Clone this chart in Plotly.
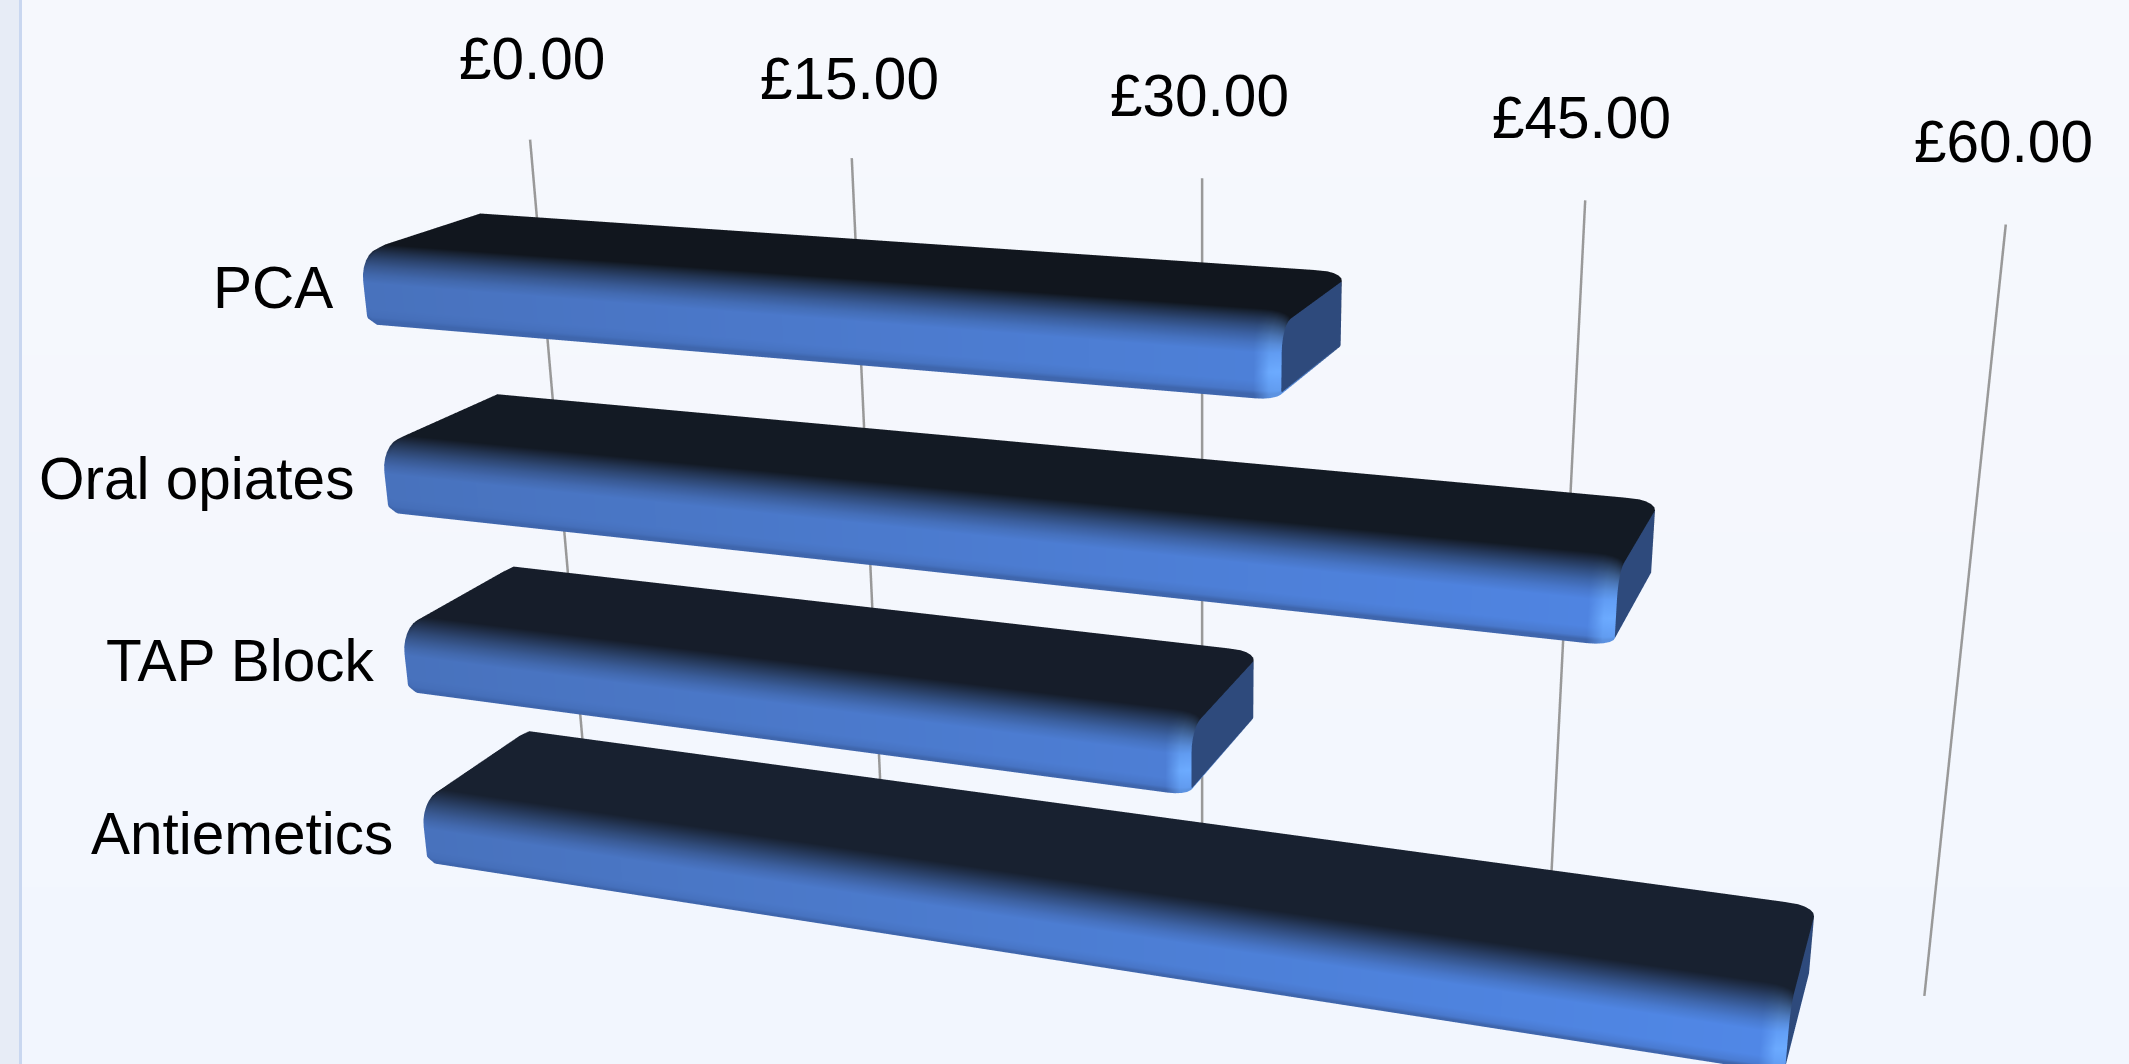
import math
import plotly.graph_objects as go

# Chart data
categories = ["PCA", "Oral opiates", "TAP Block", "Antiemetics"]
costs = [36.8, 48.8, 33.5, 55.7]
tick_values = [0, 15, 30, 45, 60]
tick_labels = ["£0.00", "£15.00", "£30.00", "£45.00", "£60.00"]

# Page geometry: the scene is larger than the window and sits partly above it
FIG_W, FIG_H = 2404, 2053
TOP_OFFSET = 478
WINDOW_H = 1064

# Scene scale: one pound and one category slot, in scene length units
UNIT_PER_POUND = 0.010333
UNIT_PER_SLOT = 0.08
N_SLOTS = len(categories)

# Bar solid, in scene length units
DEPTH_MID, DEPTH_HALF = 0.0815, 0.0405
HEIGHT_HALF = 0.0155
HEIGHT_SHIFT = 0.0007
R_TOP, R_BOTTOM = 0.013, 0.004
END_LENGTH, END_INSET = 0.0095, 0.003
END_SLANT = 0.25   # pounds the end face leans back towards the viewer
LEFT_LENGTH, LEFT_INSET = 0.004, 0.002
BAR_START = -0.5   # bars overhang the zero line slightly at their rounded end


def hex2rgb(c):
    return tuple(int(c[i:i + 2], 16) for i in (1, 3, 5))


def mix(a, b, t):
    t = max(0.0, min(1.0, t))
    return tuple(a[i] + (b[i] - a[i]) * t for i in range(3))


def css(c):
    return "#%02x%02x%02x" % tuple(int(round(v)) for v in c)


TOP_FIRST = hex2rgb("#11161e")
TOP_LAST = hex2rgb("#182130")
FRONT_LEFT = hex2rgb("#4872bd")
FRONT_RIGHT = hex2rgb("#5189ea")
FRONT_EDGE = hex2rgb("#3f66ad")
HIGHLIGHT = hex2rgb("#6cabff")
END_FACE = hex2rgb("#2e4a7c")


def profile(slot_mid, inset):
    """Rounded cross-section: list of (depth, down, top/front mix, vertical frac)."""
    zb = DEPTH_MID - DEPTH_HALF + inset
    zf = DEPTH_MID + DEPTH_HALF - inset
    lt = slot_mid - HEIGHT_HALF + inset
    lb = slot_mid + HEIGHT_HALF - inset
    rt = max(R_TOP - inset, 0.001)
    rb = max(R_BOTTOM - inset, 0.001)
    pts = [(zb, lb, 1.0, 2.0), (zb, lt, 0.0, 0.0)]
    for n in range(7):
        a = math.radians(15 * n)
        t = n / 6
        pts.append((zf - rt + rt * math.sin(a), lt + rt * (1 - math.cos(a)),
                    0.5 * t + 0.5 * t * t * (3 - 2 * t), 0.0))
    for v in (0.25, 0.5, 0.75):
        pts.append((zf, lt + rt + (lb - rb - lt - rt) * v, 1.0, v))
    for n in range(5):
        a = math.radians(22.5 * n)
        pts.append((zf - rb + rb * math.cos(a), lb - rb + rb * math.sin(a), 1.0,
                    1.0 if n else 0.9))
    return pts


def bar_mesh(value, index):
    slot_mid = (index + 0.5) * UNIT_PER_SLOT + HEIGHT_SHIFT
    top = mix(TOP_FIRST, TOP_LAST, index / (N_SLOTS - 1))
    left_len = LEFT_LENGTH / UNIT_PER_POUND
    end_len = END_LENGTH / UNIT_PER_POUND

    # Rings along the bar: (value, inset, closeness to the right end 0..1)
    rings = []
    for deg in (0, 15, 30, 45, 60, 75):
        a = math.radians(deg)
        rings.append((BAR_START + left_len * math.sin(a), LEFT_INSET * (1 - math.sin(a)), 0.0))
    body_from = BAR_START + left_len
    body_to = value - end_len - END_SLANT
    for f in (0.0, 0.33, 0.66, 1.0):
        rings.append((body_from + (body_to - body_from) * f, 0.0, 0.0))
    for n in range(6):
        a = math.radians(18 * (n + 1))
        rings.append((value - end_len + end_len * math.sin(a),
                      END_INSET * (1 - math.cos(a)), (n + 1) / 6))
    rings.append((value, END_INSET, 2.0))   # duplicate ring carrying the end-face colour

    xs, ys, zs, cols = [], [], [], []
    tri_i, tri_j, tri_k = [], [], []
    m = None
    for val, inset, closeness in rings:
        pts = profile(slot_mid, inset)
        m = len(pts)
        for depth, down, tf, vf in pts:
            lean = 0.0
            if closeness > 0:
                lean = END_SLANT * (depth - (DEPTH_MID - DEPTH_HALF)) / (2 * DEPTH_HALF)
            xs.append(val - lean)
            ys.append(-depth)
            zs.append(N_SLOTS - down / UNIT_PER_SLOT)
            front = mix(FRONT_LEFT, FRONT_RIGHT, val / 60)
            if vf > 0.85:
                front = mix(front, FRONT_EDGE, (vf - 0.85) / 0.15)
            if closeness == 2.0 or vf == 2.0:
                c = END_FACE
            else:
                if closeness > 0:
                    strength = min(closeness / 0.35, 1.0) * (0.5 + 0.5 * (1 - abs(vf - 0.5) * 1.4))
                    front = mix(front, HIGHLIGHT, strength)
                if closeness > 0.85:
                    front = mix(front, END_FACE, 0.4)
                c = mix(top, front, tf)
            cols.append(css(c))

    n_rings = len(rings)
    for r in range(n_rings - 2):
        for p in range(m):
            q = (p + 1) % m
            a, b = r * m + p, r * m + q
            c, d = (r + 1) * m + p, (r + 1) * m + q
            tri_i += [a, b]
            tri_j += [b, d]
            tri_k += [c, c]
    # End caps as triangle fans
    for ring, colour in ((0, css(FRONT_LEFT)), (n_rings - 1, css(END_FACE))):
        centre = len(xs)
        xs.append(rings[ring][0] - (END_SLANT / 2 if ring else 0))
        ys.append(-DEPTH_MID)
        zs.append(N_SLOTS - slot_mid / UNIT_PER_SLOT)
        cols.append(colour)
        for p in range(m):
            tri_i.append(centre)
            tri_j.append(ring * m + p)
            tri_k.append(ring * m + (p + 1) % m)

    return go.Mesh3d(x=xs, y=ys, z=zs, i=tri_i, j=tri_j, k=tri_k, vertexcolor=cols,
                     name=categories[index], hoverinfo="skip", showscale=False,
                     lighting=dict(ambient=1.0, diffuse=0.0, specular=0.0,
                                   roughness=1.0, fresnel=0.0),
                     flatshading=False)


fig = go.Figure()

# Gridlines on the back wall
for tick in tick_values:
    fig.add_trace(go.Scatter3d(x=[tick, tick], y=[0, 0],
                               z=[N_SLOTS, N_SLOTS - 0.319 / UNIT_PER_SLOT],
                               mode="lines", line=dict(color="#999999", width=5),
                               hoverinfo="skip", showlegend=False))

for idx, val in enumerate(costs):
    fig.add_trace(bar_mesh(val, idx))

annotations = []
font_spec = dict(family="Liberation Sans, Arial, sans-serif", size=58.5, color="#000000")
# Tick captions float a little off the wall's perspective; small pixel nudges place them
tick_nudge_x = [8, 1, -3, -8, -11]
tick_nudge_y = [8, 3, 3, 0, -4]
for tick, label, nx, ny in zip(tick_values, tick_labels, tick_nudge_x, tick_nudge_y):
    annotations.append(dict(x=tick, y=0, z=N_SLOTS + 0.4, text=label, showarrow=False,
                            xanchor="center", yanchor="middle", xshift=nx, yshift=ny,
                            font=font_spec))
for idx, name in enumerate(categories):
    annotations.append(dict(x=0, y=-(DEPTH_MID + DEPTH_HALF), z=N_SLOTS - idx - 0.5, text=name,
                            showarrow=False, xanchor="right", yanchor="middle",
                            xshift=-37, font=font_spec))

# Background bands and the slim panel at the left edge
def paper_y(py):
    return 1 - (py + TOP_OFFSET) / FIG_H


shapes = []
BANDS = ["#f6f8fd", "#f5f8fd", "#f5f7fd", "#f4f7fd", "#f3f7fe", "#f2f6fe"]
band_h = WINDOW_H / len(BANDS)
for b, colour in enumerate(BANDS):
    shapes.append(dict(type="rect", xref="paper", yref="paper", layer="below", x0=0, x1=1,
                       y0=paper_y(b * band_h), y1=paper_y((b + 1) * band_h),
                       fillcolor=colour, line=dict(width=0)))
shapes.append(dict(type="rect", xref="paper", yref="paper", layer="below", x0=0, x1=19 / FIG_W,
                   y0=paper_y(0), y1=paper_y(WINDOW_H), fillcolor="#e7ecf6", line=dict(width=0)))
shapes.append(dict(type="rect", xref="paper", yref="paper", layer="below", x0=19 / FIG_W,
                   x1=22 / FIG_W, y0=paper_y(0), y1=paper_y(WINDOW_H),
                   fillcolor="#c9d7f0", line=dict(width=0)))

hidden = dict(visible=False, showgrid=False, zeroline=False, showticklabels=False,
              showspikes=False, showbackground=False)
fig.update_layout(
    width=FIG_W, height=FIG_H, autosize=False,
    margin=dict(l=0, r=0, t=0, b=0),
    paper_bgcolor="#f4f7fd",
    showlegend=False,
    shapes=shapes,
    scene=dict(
        domain=dict(x=[0, 1], y=[0, 1]),
        bgcolor="rgba(0,0,0,0)",
        xaxis=dict(hidden, range=[-20, 80]),
        yaxis=dict(hidden, range=[-0.3, 0.3]),
        zaxis=dict(hidden, range=[-2.25, 6.5]),
        aspectmode="manual",
        aspectratio=dict(x=100 * UNIT_PER_POUND, y=0.6, z=8.75 * UNIT_PER_SLOT),
        camera=dict(
            projection=dict(type="perspective"),
            eye=dict(x=0.3022, y=-0.9478, z=0.3303),
            center=dict(x=0.0296, y=-0.0930, z=0.0254),
            up=dict(x=0, y=0, z=1),
        ),
        annotations=annotations,
    ),
)

page_script = (
    "var gd=document.getElementById('{plot_id}');"
    "gd.style.marginTop='-%dpx';"
    "document.documentElement.style.overflow='hidden';"
    "document.body.style.overflow='hidden';" % TOP_OFFSET
)
fig.write_html("out.html", config={"displayModeBar": False}, post_script=page_script)
